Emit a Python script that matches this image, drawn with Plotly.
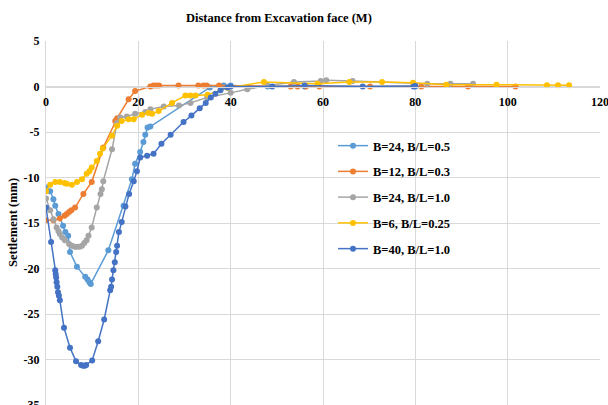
import plotly.graph_objects as go

# ---- data ----
names = ["B=24, B/L=0.5", "B=12, B/L=0.3", "B=24, B/L=1.0", "B=6, B/L=0.25", "B=40, B/L=1.0"]
colors = ["#5B9BD5", "#ED7D31", "#A5A5A5", "#FFC000", "#4472C4"]

x_b24_05 = [0, 0.9, 1.6, 2.0, 2.7, 3.7, 4.2, 4.8, 5.2, 6.7, 8.5, 9.0, 9.4, 9.7, 13.5, 16.8, 18.6, 19.3,
            20.4, 21.1, 21.5, 22.0, 22.6, 35.5, 38.5, 40, 48, 56, 80]
y_b24_05 = [-11.1, -11.5, -12.4, -13.1, -14.0, -15.3, -16.0, -16.4, -18.2, -19.8, -20.9, -21.2, -21.5, -21.7,
            -18.0, -13.1, -10.2, -8.5, -7.2, -6.1, -5.3, -4.5, -4.4, -0.1, 0.1, 0.1, 0.0, 0.0, 0.0]

x_b12_03 = [0, 1.6, 3.0, 4.0, 4.5, 5.0, 5.5, 6.3, 8.1, 9.9, 12.4, 15.0, 15.4, 17.9, 19.3, 22.6, 23.3, 23.9,
            24.5, 28.7, 33.0, 34.1, 34.8, 37.5, 53, 54.5, 56.3, 59.2, 70.2, 81.3, 91.4, 101.7]
y_b12_03 = [-14.7, -14.7, -14.5, -14.2, -14.0, -13.8, -13.6, -13.3, -11.8, -10.5, -6.7, -3.8, -3.5, -1.4, -0.5,
            0.0, 0.1, 0.1, 0.1, 0.1, 0.1, 0.1, 0.1, 0.1, 0.0, 0.0, 0.0, 0.0, 0.0, 0.0, 0.0, 0.0]

x_b24_10 = [0, 0.9, 1.6, 2.3, 2.7, 3.0, 3.5, 4.1, 5.0, 5.6, 6.2, 6.7, 7.3, 7.8, 8.3, 8.8, 9.2, 9.9, 11.0,
            11.8, 12.1, 12.4, 14.3, 15.4, 16.1, 17.5, 19.3, 21.5, 22.6, 25.5, 28.8, 31.3, 34.9, 40, 43.6,
            48, 53.7, 59.5, 60.7, 66.4, 82.6, 87.6, 92.5]
y_b24_10 = [-12.3, -13.6, -14.6, -15.5, -15.9, -16.2, -16.6, -16.9, -17.3, -17.5, -17.6, -17.6, -17.6, -17.5,
            -17.2, -16.9, -16.4, -15.5, -13.3, -11.8, -11.3, -10.4, -6.9, -4.0, -3.4, -3.3, -3.0, -2.8, -2.5,
            -2.2, -2.1, -1.8, -1.2, -0.7, -0.3, 0.1, 0.5, 0.6, 0.7, 0.6, 0.3, 0.3, 0.3]

x_b6_025 = [0, 0.9, 2.0, 3.0, 4.0, 4.5, 5.6, 6.7, 7.8, 8.8, 9.4, 9.9, 11.0, 11.7, 12.3, 14.3, 15.4, 16.4,
            17.9, 19.0, 20.8, 22.2, 23.0, 24.4, 27.3, 30.2, 31.3, 32.4, 35, 39.3, 47.2, 58.8, 65.7, 72.8,
            79.5, 86.7, 97.6, 108.5, 110.9, 113.3]
y_b6_025 = [-11.5, -10.8, -10.5, -10.5, -10.6, -10.7, -10.8, -10.5, -10.2, -9.6, -9.3, -8.9, -8.2, -7.4,
            -6.8, -5.4, -4.3, -3.8, -3.6, -3.6, -3.1, -2.9, -3.0, -2.7, -1.8, -1.0, -1.0, -1.0, -0.9, -0.15,
            0.5, 0.3, 0.5, 0.5, 0.4, 0.2, 0.2, 0.15, 0.15, 0.15]

x_b40_10 = [0, 1.1, 2.0, 2.1, 2.2, 2.3, 2.45, 2.6, 2.8, 3.0, 3.9, 5.2, 6.5, 7.6, 8.0, 8.4, 8.7, 10.0, 11.3,
            12.6, 13.9, 14.1, 14.3, 14.6, 14.9, 15.2, 15.4, 15.8, 16.4, 17.2, 18.0, 19.0, 19.7, 20.4, 21.9,
            23.3, 25.0, 27.0, 29.8, 31.5, 33.3, 34.6, 35.7, 36.7, 37.8, 39.3, 40, 49, 56, 68.6, 79.6, 80]
y_b40_10 = [-13.3, -17.1, -20.2, -20.6, -21.0, -21.5, -22.0, -22.6, -23.0, -23.5, -26.5, -28.7, -30.2, -30.6,
            -30.7, -30.7, -30.6, -30.1, -28.0, -25.6, -22.4, -22.0, -21.2, -20.2, -19.3, -18.2, -17.5, -16.0,
            -14.9, -13.2, -11.8, -10.4, -9.3, -7.8, -7.6, -7.4, -6.3, -5.3, -3.9, -3.2, -2.4, -1.8, -1.2,
            -0.8, -0.4, -0.1, 0.0, 0.0, 0.1, 0.0, 0.0, 0.05]

xs = [x_b24_05, x_b12_03, x_b24_10, x_b6_025, x_b40_10]
ys = [y_b24_05, y_b12_03, y_b24_10, y_b6_025, y_b40_10]

x_ticks = [0, 20, 40, 60, 80, 100, 120]
y_ticks = [5, 0, -5, -10, -15, -20, -25, -30, -35]

FONT = "Liberation Serif"
GRID = "#D9D9D9"

fig = go.Figure()
for i, (nm, c, xv, yv) in enumerate(zip(names, colors, xs, ys)):
    fig.add_trace(go.Scatter(
        x=xv, y=yv, name=nm, mode="lines+markers",
        line=dict(color=c, width=1.5),
        marker=dict(color=c, size=6),
        legendgroup=f"g{i}",
    ))

y_lo, y_hi = -35, 5
fig.update_layout(
    width=608, height=405,
    margin=dict(l=46, r=8, t=41, b=0, autoexpand=False),
    paper_bgcolor="white", plot_bgcolor="white",
    font=dict(family=FONT, size=12, color="#000000"),
    showlegend=True,
    legend=dict(
        xref="container", yref="container",
        x=333 / 608, y=1 - 131 / 405, xanchor="left", yanchor="top",
        font=dict(family=FONT, size=12.5, color="#000000", weight="bold"),
        tracegroupgap=6.5, bgcolor="rgba(0,0,0,0)",
    ),
    xaxis=dict(
        range=[0, 120], tickvals=x_ticks, ticktext=[f"<b>{v}</b>" for v in x_ticks],
        showgrid=True, gridcolor=GRID, gridwidth=1,
        anchor="free", position=(0 - y_lo) / (y_hi - y_lo), side="bottom",
        showline=True, linecolor=GRID, linewidth=1,
        zeroline=False, ticks="", automargin=False, ticklabelstandoff=4,
        ticklabeloverflow="allow",
        tickfont=dict(family=FONT, size=12, color="#000000"),
    ),
    yaxis=dict(
        range=[y_lo, y_hi], tickvals=y_ticks, ticktext=[f"<b>{v}</b>" for v in y_ticks],
        showgrid=True, gridcolor=GRID, gridwidth=1,
        showline=True, linecolor=GRID, linewidth=1,
        zeroline=False, ticks="", automargin=False, ticklabelstandoff=3,
        ticklabeloverflow="allow",
        tickfont=dict(family=FONT, size=12, color="#000000"),
    ),
    annotations=[
        dict(text="<b>Distance from Excavation face (M)</b>", xref="paper", yref="paper",
             x=(279 - 46) / 554, y=1 + 23 / 364, xanchor="center", yanchor="middle",
             showarrow=False, font=dict(family=FONT, size=12.5, color="#000000")),
        dict(text="<b>Settlement (mm)</b>", xref="paper", yref="paper",
             x=-33 / 554, y=(405 - 223) / 364, xanchor="center", yanchor="middle",
             textangle=-90, showarrow=False, font=dict(family=FONT, size=12.5, color="#000000")),
    ],
)

fig.write_html("out.html")
